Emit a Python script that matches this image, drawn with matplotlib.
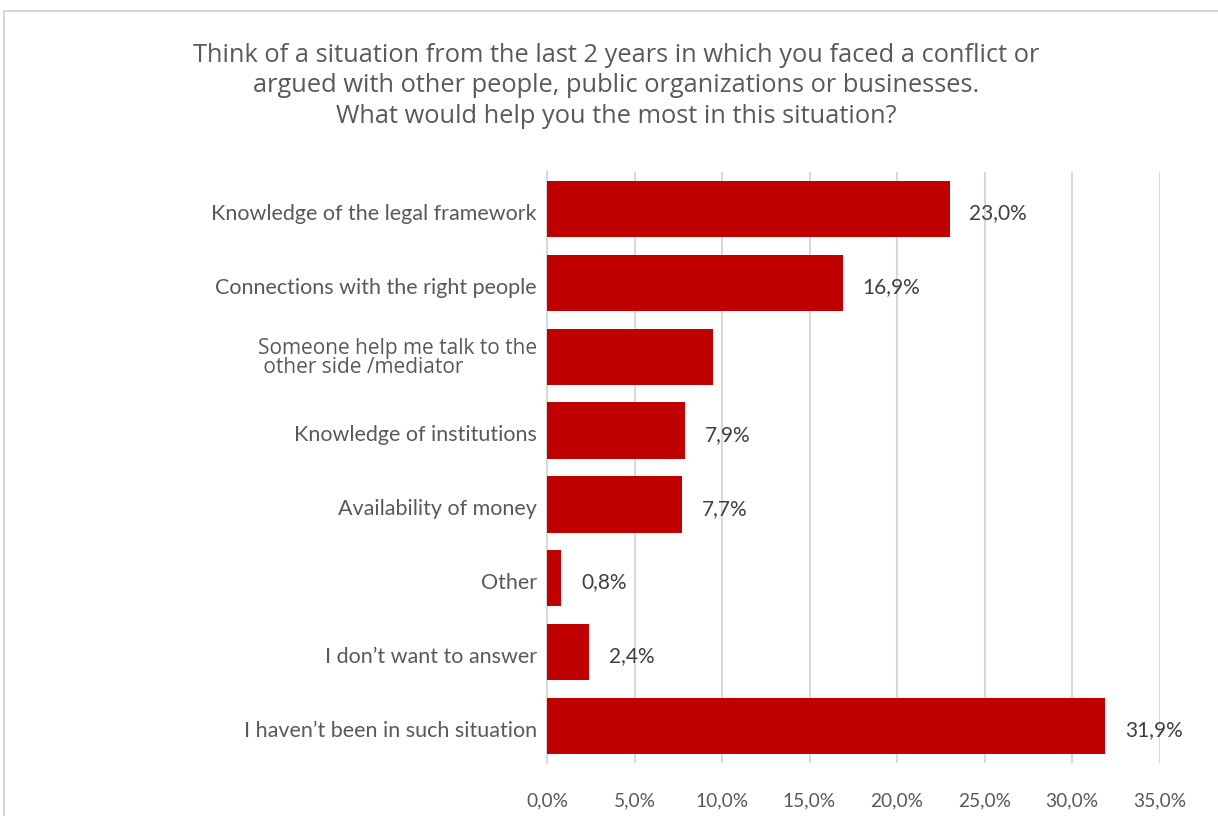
import matplotlib.pyplot as plt
from matplotlib.patches import Rectangle
from matplotlib.transforms import offset_copy

categories = [
    "Knowledge of the legal framework",
    "Connections with the right people",
    "Someone help me talk to the\n other side /mediator",
    "Knowledge of institutions",
    "Availability of money",
    "Other",
    "I don\u2019t want to answer",
    "I haven\u2019t been in such situation",
]
values = [23.0, 16.9, 9.5, 7.9, 7.7, 0.8, 2.4, 31.9]
# the mediator bar carries no data label
show_label = [True, True, False, True, True, True, True, True]
ticks = [0, 5, 10, 15, 20, 25, 30, 35]

bar_color = '#c00000'
text_color = '#595959'
grid_color = '#d9d9d9'


def pct(v):
    return f"{v:.1f}%".replace('.', ',')


fig = plt.figure(figsize=(12.18, 8.16), dpi=100)
ax = fig.add_axes([547 / 1218, 1 - 763 / 816, (1159.5 - 547) / 1218, (763 - 172) / 816])

# outer frame of the chart area
fig.patches.append(Rectangle((4 / 1218, -0.05), 1.2, 1 - 11 / 816 + 0.05,
                             transform=fig.transFigure, fill=False,
                             edgecolor='#d0d0d0', linewidth=1.2))

y = list(range(len(categories)))
ax.barh(y, values, height=0.76, color=bar_color, zorder=3)
ax.set_ylim(len(categories) - 0.5, -0.5)
ax.set_xlim(0, 35)

for yi, v, show in zip(y, values, show_label):
    if show:
        ax.annotate(pct(v), (v, yi), xytext=(14.4, -3), textcoords='offset points',
                    va='center', ha='left', fontsize=15, color='#404040',
                    family='Lato')

ax.set_xticks(ticks)
ax.set_xticklabels([pct(t) for t in ticks], fontsize=13.8, color=text_color,
                   family='Lato')
ax.set_yticks(y)
ax.set_yticklabels([])
lab_trans = offset_copy(ax.transData, fig=fig, x=-7.2, y=-3.5, units='points')
for yi, c in zip(y, categories):
    if '\n' in c:
        ax.text(0, yi, c, ha='right', va='center', fontsize=15,
                color=text_color, family='Open Sans', linespacing=0.85,
                multialignment='left', transform=offset_copy(
                    ax.transData, fig=fig, x=-7.2, y=-1, units='points'))
    else:
        ax.text(0, yi, c, ha='right', va='center', fontsize=15.5,
                color=text_color, family='Lato', transform=lab_trans)

ax.tick_params(axis='both', length=0)
ax.tick_params(axis='x', pad=21)
ax.xaxis.grid(True, color=grid_color, linewidth=1.5, zorder=0)
for s in ['top', 'right', 'bottom']:
    ax.spines[s].set_visible(False)
ax.spines['left'].set_color(grid_color)
ax.spines['left'].set_linewidth(1.5)

fig.text(616 / 1218, 1 - 86 / 816,
         "Think of a situation from the last 2 years in which you faced a conflict or\n"
         "argued with other people, public organizations or businesses.\n"
         "What would help you the most in this situation?",
         ha='center', va='center', fontsize=18.3, color=text_color,
         family='Open Sans', linespacing=1.3)

fig.savefig('out.png', dpi=100, facecolor='white')
